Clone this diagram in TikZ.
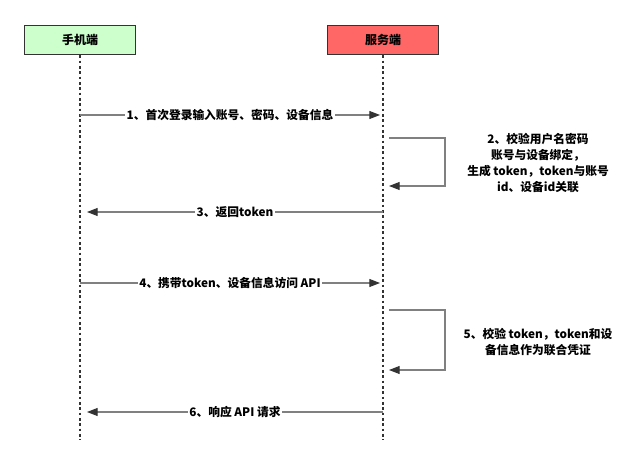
\documentclass[tikz,border=0pt]{standalone}
\usepackage{fontspec}
\setmainfont{Noto Sans CJK SC}
\usetikzlibrary{arrows.meta, positioning, calc}
\definecolor{phoneGreen}{HTML}{CCFFCC}
\definecolor{serverRed}{HTML}{FF6666}
\definecolor{lineGray}{HTML}{808080}
\tikzset{
    actor/.style={draw=black!80, thick, minimum width=83pt, minimum height=22pt, font=\fontsize{9}{10}\selectfont\bfseries},
    life/.style={black!80, thick, dash pattern=on 2pt off 2pt},
    msg/.style={lineGray, thick, -{Triangle[length=8pt,width=6pt,color=black!80,fill=black!80]}},
    lbl/.style={fill=white, text=black, inner sep=1pt, font=\fontsize{8.8}{10}\selectfont\bfseries},
    note/.style={align=center, font=\fontsize{8.8}{12}\selectfont\bfseries}
}
\begin{document}
\begin{tikzpicture}[x=0.75pt, y=-0.75pt]
        \useasboundingbox (0,0) rectangle (643,467);
        % Actors
        \node[actor, fill=phoneGreen] (phone) at (80,40) {手机端};
        \node[actor, fill=serverRed] (server) at (383,40) {服务端};
        \coordinate (phoneEnd) at (80,440);
        \coordinate (serverEnd) at (383,440);
        \draw[life] (phone) -- (phoneEnd);
        \draw[life] (server) -- (serverEnd);
        
        % Step 1
        \coordinate (a1) at (80,115);
        \coordinate (b1) at (380,115);
        \draw[msg] (a1) -- (b1) node[midway, lbl] {1、首次登录输入账号、密码、设备信息};
        
        % Step 2
        \coordinate (s2) at (389,138);
        \coordinate (e2) at (389,186);
        \draw[msg] (s2) -- ++(56,0) |- (e2);
        \node[note] (n2) at (538,163) {2、校验用户名密码\\账号与设备绑定，\\生成 token，token与账号\\id、设备id关联};
        
        % Step 3
        \coordinate (a3) at (383,212);
        \coordinate (b3) at (87,212);
        \draw[msg] (a3) -- (b3) node[midway, lbl] {3、返回token};
        
        % Step 4
        \coordinate (a4) at (80,283);
        \coordinate (b4) at (380,283);
        \draw[msg] (a4) -- (b4) node[midway, lbl] {4、携带token、设备信息访问 API};
        
        % Step 5
        \coordinate (s5) at (389,310);
        \coordinate (e5) at (389,370);
        \draw[msg] (s5) -- ++(56,0) |- (e5);
        \node[note] (n5) at (538,342) {5、校验 token，token和设\\备信息作为联合凭证};
        
        % Step 6
        \coordinate (a6) at (383,412);
        \coordinate (b6) at (87,412);
        \draw[msg] (a6) -- (b6) node[midway, lbl] {6、响应 API 请求};
    \end{tikzpicture}
\end{document}
